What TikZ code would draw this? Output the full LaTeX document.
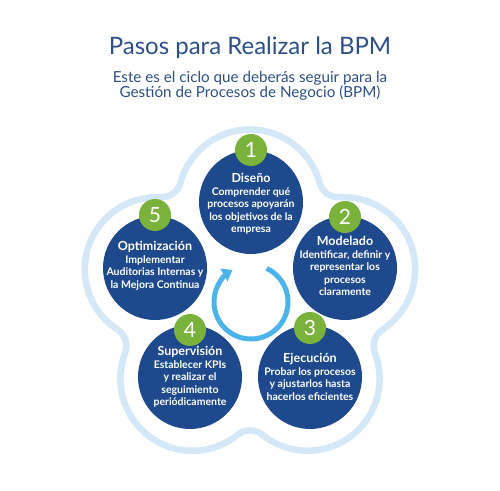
\documentclass[tikz,border=0pt]{standalone}
\usepackage{fontspec}
\setmainfont{Lato}
\usetikzlibrary{calc,arrows.meta}
\definecolor{navy}{RGB}{30,74,141}
\definecolor{leaf}{RGB}{122,178,60}
\definecolor{band}{RGB}{212,232,248}
\definecolor{cyanarrow}{RGB}{76,180,234}
\definecolor{titleblue}{RGB}{44,80,136}
\begin{document}
\begin{tikzpicture}[x=1pt,y=1pt,
  stepdisk/.style={circle,fill=navy,minimum size=104pt,inner sep=0pt},
  badge/.style={circle,fill=leaf,minimum size=32pt,inner sep=0pt,text=white,font=\fontsize{21}{21}\selectfont},
  steptext/.style={text=white,align=center,font=\fontsize{10.5}{12.5}\selectfont\bfseries},
  outl/.style={draw=band,line width=6.5pt,fill=white},
  cyclearrow/.style={draw=cyanarrow,line width=5pt,-{Triangle[length=10pt,width=14pt]}},
  headline/.style={text=titleblue,font=\fontsize{24}{27}\selectfont,anchor=base},
  subline/.style={text=titleblue,font=\fontsize{15.2}{17}\selectfont,anchor=base,align=center}]
\useasboundingbox (0,0) rectangle (500,490);
\fill[white] (0,0) rectangle (500,490);
\coordinate (O) at (250,190.5);
% outer flower outline
\draw[outl] ($(O)+(90:98)+(164.81:72)$)
  \foreach \t in {90,18,-54,-126,-198} {
    arc[start angle=\t+74.81, end angle=\t-74.81, radius=72]
    arc[start angle=\t+105.19, end angle=\t+182.81, radius=19.9]
  } -- cycle;
% titles
\node[headline] (title) at (250,435) {Pasos para Realizar la BPM};
\node[subline] (sub1) at (250,407) {Este es el ciclo que deberás seguir para la};
\node[subline] (sub2) at (250,392) {Gestión de Procesos de Negocio (BPM)};
% central cycle arrow
\coordinate (ac) at (251,188);
\draw[cyclearrow] ($(ac)+(65:37)$) arc[start angle=65, end angle=-240, radius=37];
% step disks
\node[stepdisk] (c1) at (251,288) {};
\node[stepdisk] (c2) at (345,222) {};
\node[stepdisk] (c3) at (310,113) {};
\node[stepdisk] (c4) at (190,113) {};
\node[stepdisk] (c5) at (155,222) {};
% badges
\node[badge] (b1) at ($(c1)+(0,52)$) {1};
\node[badge] (b2) at ($(c2)+(0,51)$) {2};
\node[badge] (b3) at ($(c3)+(0,49)$) {3};
\node[badge] (b4) at ($(c4)+(0,47)$) {4};
\node[badge] (b5) at ($(c5)+(0,53)$) {5};
% texts
\node[steptext] (t1) at ($(c1)+(0,-2)$) {{\fontsize{12.5}{14}\selectfont Diseño}\\Comprender qué\\procesos apoyarán\\los objetivos de la\\empresa};
\node[steptext] (t2) at ($(c2)+(0,2)$) {{\fontsize{12.5}{14}\selectfont Modelado}\\Identificar, definir y\\representar los\\procesos\\claramente};
\node[steptext] (t3) at (c3) {{\fontsize{12.5}{14}\selectfont Ejecución}\\Probar los procesos\\y ajustarlos hasta\\hacerlos eficientes};
\node[steptext] (t4) at (c4) {{\fontsize{12.5}{14}\selectfont Supervisión}\\Establecer KPIs\\y realizar el\\seguimiento\\periódicamente};
\node[steptext] (t5) at ($(c5)+(0,2)$) {{\fontsize{12.5}{14}\selectfont Optimización}\\Implementar\\Auditorias Internas y\\la Mejora Continua};
\end{tikzpicture}
\end{document}
